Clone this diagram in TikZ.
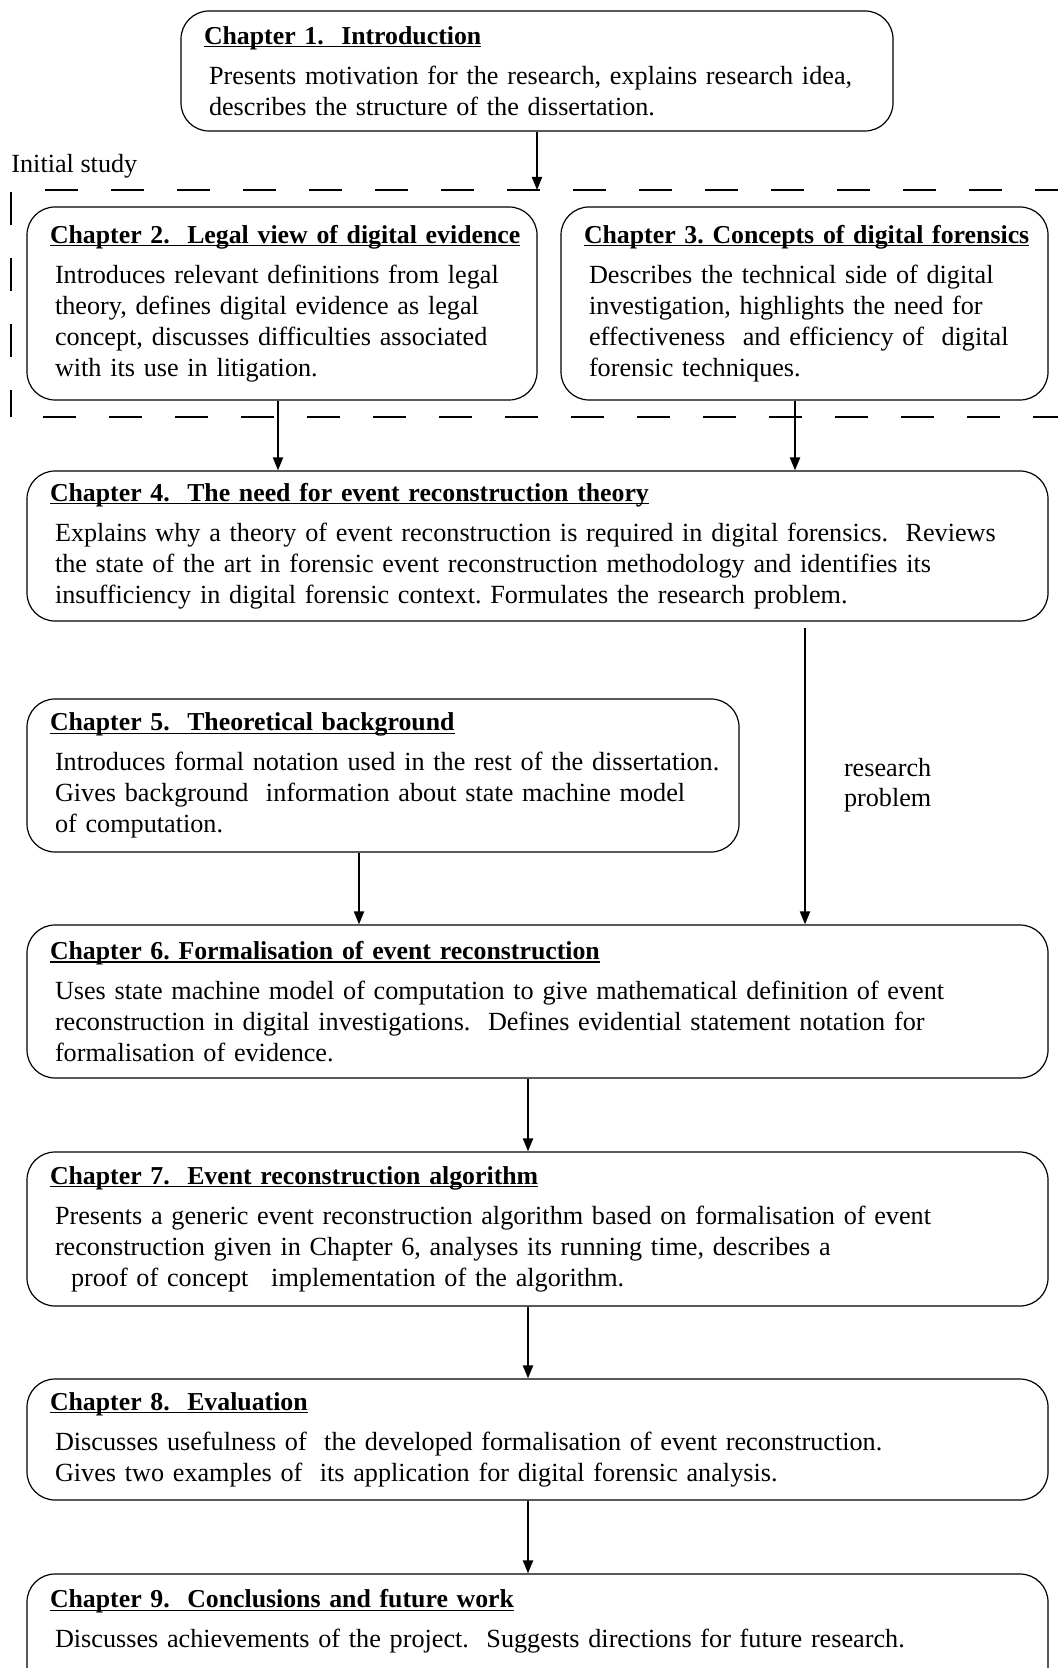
\documentclass[tikz,border=0pt]{standalone}
\usepackage{fontspec}
\setmainfont{Liberation Serif}
\frenchspacing
\usetikzlibrary{arrows.meta,positioning}
\tikzstyle{chapter} = [rectangle, rounded corners=14pt, draw=black, line width=0.6pt, inner xsep=0pt, align=left, execute at begin node={\leftskip=14pt}]
\tikzstyle{arrow} = [line width=1pt, -{Triangle[length=6.5pt,width=5pt]}]
\tikzstyle{frame} = [line width=1pt, dash pattern=on 16.5pt off 16.5pt]
\newsavebox{\ttlbox}
\newcommand{\ctitle}[1]{\hspace*{-2.5pt}\sbox{\ttlbox}{\fontsize{12.9pt}{15.5pt}\selectfont\textbf{#1}}\rlap{\rule[-1.6pt]{\wd\ttlbox}{0.6pt}}\usebox{\ttlbox}\\[4.5pt]}

\begin{document}
\begin{tikzpicture}[x=0.5pt, y=-0.5pt, font=\fontsize{13.1pt}{15.5pt}\selectfont]
\useasboundingbox (0,0) rectangle (1058,1668);

\node (ch1) [chapter, text width=356pt, minimum height=60pt] at (537,71)
  {\ctitle{Chapter 1.~ Introduction} Presents motivation for the research, explains research idea,\\ describes the structure of the dissertation.};

% initial study frame
\node (initial) [anchor=west, inner sep=0pt] at (11,166) {Initial study};
\draw [frame] (45,190) -- (1080,190);
\draw [frame] (43,417) -- (1080,417);
\draw [frame] (11,192) -- (11,417);
\coordinate (frametop) at (537,190);

\node (ch2) [chapter, text width=255pt, minimum height=96.5pt] at (282,303.5)
  {\ctitle{Chapter 2.~ Legal view of digital evidence} Introduces relevant definitions from legal\\ theory, defines digital evidence as legal\\ concept, discusses difficulties associated\\ with its use in litigation.};
\node (ch3) [chapter, text width=243.5pt, minimum height=96.5pt] at (804.5,303.5)
  {\ctitle{Chapter 3. Concepts of digital forensics} Describes the technical side of digital\\ investigation, highlights the need for\\ effectiveness~ and efficiency of~ digital\\ forensic techniques.};
\node (ch4) [chapter, text width=510.5pt, minimum height=75pt] at (537.5,546)
  {\ctitle{Chapter 4.~ The need for event reconstruction theory} Explains why a theory of event reconstruction is required in digital forensics.~ Reviews\\ the state of the art in forensic event reconstruction methodology and identifies its\\ insufficiency in digital forensic context. Formulates the research problem.};
\node (ch5) [chapter, text width=356pt, minimum height=76.5pt] at (383,775.5)
  {\ctitle{Chapter 5.~ Theoretical background} Introduces formal notation used in the rest of the dissertation.\\ Gives background~ information about state machine model\\ of computation.};
\node (ch6) [chapter, text width=510.5pt, minimum height=76.5pt] at (537.5,1001.5)
  {\ctitle{Chapter 6. Formalisation of event reconstruction} Uses state machine model of computation to give mathematical definition of event\\ reconstruction in digital investigations.~ Defines evidential statement notation for\\ formalisation of evidence.};
\node (ch7) [chapter, text width=510.5pt, minimum height=77pt] at (537.5,1229)
  {\ctitle{Chapter 7.~ Event reconstruction algorithm} Presents a generic event reconstruction algorithm based on formalisation of event\\ reconstruction given in Chapter 6, analyses its running time, describes a\\ \hspace*{8pt}proof of concept\hspace{7pt} implementation of the algorithm.};
\node (ch8) [chapter, text width=510.5pt, minimum height=60.5pt] at (537.5,1439.5)
  {\ctitle{Chapter 8.~ Evaluation} Discusses usefulness of~ the developed formalisation of event reconstruction.\\ Gives two examples of~ its application for digital forensic analysis.};
\node (ch9) [chapter, text width=510.5pt, minimum height=60pt] at (537.5,1634)
  {\ctitle{Chapter 9.~ Conclusions and future work} Discusses achievements of the project.~ Suggests directions for future research.\\\mbox{}};

\draw [arrow] (ch1) -- (frametop);
\draw [arrow] ([xshift=-2pt]ch2.south) -- ([xshift=-2pt]ch2.south |- ch4.north);
\draw [arrow] ([xshift=-4.75pt]ch3.south) -- ([xshift=-4.75pt]ch3.south |- ch4.north);
\draw [arrow, shorten <=3pt] ([xshift=133.75pt]ch4.south) -- node[right=19pt, yshift=-6pt, inner sep=0pt, align=left, font=\fontsize{13.1pt}{15pt}\selectfont] {research\\problem} ([xshift=133.75pt]ch4.south |- ch6.north);
\draw [arrow] ([xshift=-12pt]ch5.south) -- ([xshift=-12pt]ch5.south |- ch6.north);
\draw [arrow] ([xshift=-4.75pt]ch6.south) -- ([xshift=-4.75pt]ch7.north);
\draw [arrow] ([xshift=-4.75pt]ch7.south) -- ([xshift=-4.75pt]ch8.north);
\draw [arrow] ([xshift=-4.75pt]ch8.south) -- ([xshift=-4.75pt]ch9.north);

\end{tikzpicture}
\end{document}
